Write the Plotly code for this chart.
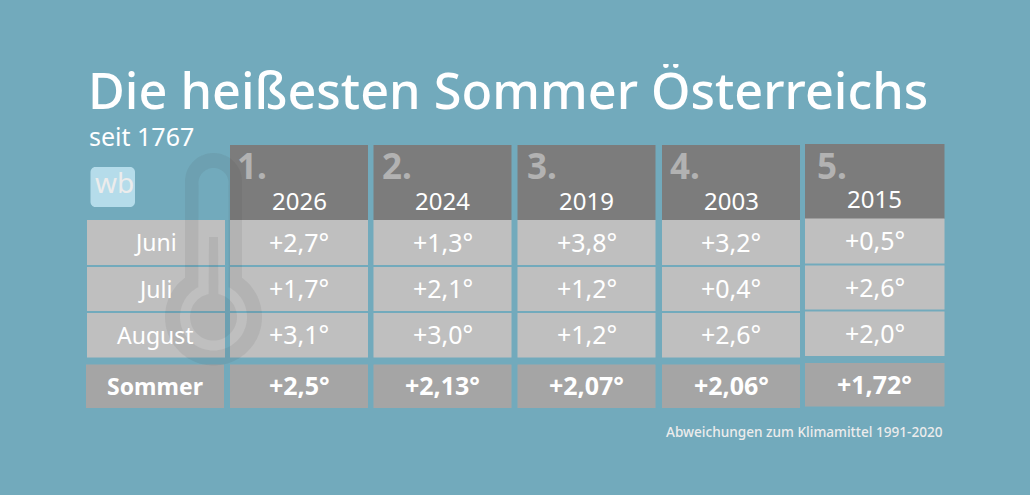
import plotly.graph_objects as go
import numpy as np

jahre = ['2026', '2024', '2019', '2003', '2015']
raenge = ['1.', '2.', '3.', '4.', '5.']
zeilen = ['Juni', 'Juli', 'August', 'Sommer']
juni = ['+2,7°', '+1,3°', '+3,8°', '+3,2°', '+0,5°']
juli = ['+1,7°', '+2,1°', '+1,2°', '+0,4°', '+2,6°']
august = ['+3,1°', '+3,0°', '+1,2°', '+2,6°', '+2,0°']
sommer = ['+2,5°', '+2,13°', '+2,07°', '+2,06°', '+1,72°']

# layout in pixels of the 1030x495 picture
spalten_x = [(230, 368), (373.5, 511.5), (517.5, 655.5), (662, 800), (805, 944.5)]
zeilen_y = [(220, 265), (267, 311), (313, 357.5), (364.5, 408)]
kopf_y = (145, 220)
versatz = [0, 0, 0, 0, -1.5]
rang_x = [5, 6, 7, 6, 10]

BG = '#72aabc'
KOPF = '#7c7c7c'
ZELLE = '#bfbfbf'
SUMME = '#a5a5a5'
FONT = 'Noto Sans'

fig = go.Figure()


def rect(x0, x1, y0, y1, farbe):
    fig.add_shape(type='rect', x0=x0, x1=x1, y0=y0, y1=y1, fillcolor=farbe, line_width=0, layer='below')


def text(x, y, s, size, farbe='white', anchor='center', weight=400, hoehe=None):
    fig.add_annotation(x=x, y=y, text=s, showarrow=False, xanchor=anchor, yanchor='middle', height=hoehe,
                       font=dict(family=FONT, size=size, color=farbe, weight=weight))


def kreis(cx, cy, r, a0=0, a1=360, n=90):
    w = np.radians(np.linspace(a0, a1, n))
    return list(zip(cx + r * np.cos(w), cy + r * np.sin(w)))


def pfad(punkte):
    return 'M ' + ' L '.join(f'{x:.1f},{y:.1f}' for x, y in punkte) + ' Z'


# Zeilenköpfe
for i, z in enumerate(zeilen):
    y0, y1 = zeilen_y[i]
    if z == 'Sommer':
        rect(86, 224, y0, y1, SUMME)
        text(155, (y0 + y1) / 2 - 0.5, z, 23, weight=700)
    else:
        rect(87, 225, y0, y1, ZELLE)
        text(155, (y0 + y1) / 2 - 0.5, z, 23)

# Spalten
for j, jahr in enumerate(jahre):
    x0, x1 = spalten_x[j]
    d = versatz[j]
    mitte = (x0 + x1) / 2
    rect(x0, x1, kopf_y[0] + d / 1.5, kopf_y[1] + d / 1.5, KOPF)
    text(x0 + rang_x[j], 165, raenge[j], 35, '#b2b2b2', 'left', 700)
    text(mitte, 200 + d, jahr, 24)
    for i, werte in enumerate([juni, juli, august, sommer]):
        y0, y1 = zeilen_y[i]
        rect(x0, x1, y0 + d, y1 + d, SUMME if i == 3 else ZELLE)
        text(mitte, (y0 + y1) / 2 + d - 1, werte[j], 25, weight=400 if i < 3 else 700)

# Thermometer als Wasserzeichen
cx, cy = 213.5, 317
aussen = kreis(cx, 181.5, 28.5, 180, 360, 40) + kreis(cx, cy, 48.5, -54, 234)
innen = kreis(cx, 183, 15, 180, 360, 40) + kreis(cx, cy, 33.5, -63, 243)
fig.add_shape(type='path', path=pfad(aussen) + ' ' + pfad(innen), fillcolor='rgba(70,70,70,0.09)',
              line_width=0, fillrule='evenodd', layer='above')
saeule = kreis(cx, cy, 23.5, -78, 258) + [(cx - 4.5, 237), (cx + 4.5, 237)]
fig.add_shape(type='path', path=pfad(saeule), fillcolor='rgba(70,70,70,0.09)', line_width=0, layer='above')

# Logo
ecken = (kreis(130, 172, 5, -90, 0, 8) + kreis(130, 202, 5, 0, 90, 8)
         + kreis(95.5, 202, 5, 90, 180, 8) + kreis(95.5, 172, 5, 180, 270, 8))
fig.add_shape(type='path', path=pfad(ecken), fillcolor='#b5dcea', line_width=0, layer='below')
text(114.5, 182, 'wb', 28, '#ececec')

text(86, 89, 'Die heißesten Sommer Österreichs', 50.4, anchor='left', weight=500, hoehe=50)
text(87, 136, 'seit 1767', 25, anchor='left', hoehe=30)
text(945, 431, 'Abweichungen zum Klimamittel 1991-2020', 13.6, '#ececec', 'right', 500)

fig.update_xaxes(range=[0, 1030], visible=False, fixedrange=True)
fig.update_yaxes(range=[495, 0], visible=False, fixedrange=True)
fig.update_layout(width=1030, height=495, margin=dict(l=0, r=0, t=0, b=0),
                  paper_bgcolor=BG, plot_bgcolor=BG, showlegend=False)
fig.write_html("out.html", config={'displayModeBar': False},
               post_script="document.body.style.margin='0';document.body.style.overflow='hidden';")
